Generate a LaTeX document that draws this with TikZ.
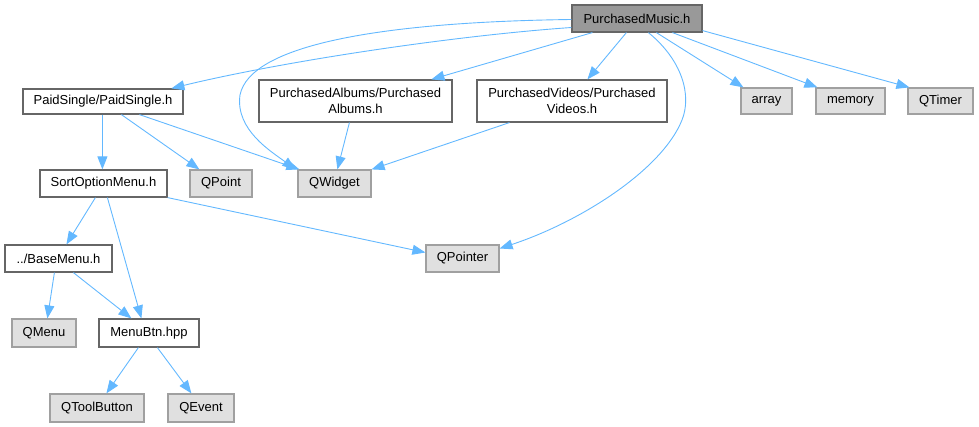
\documentclass[tikz,border=0pt]{standalone}
\usepackage{fontspec}
\setmainfont{Liberation Sans}
\usetikzlibrary{arrows.meta}
\definecolor{edgecol}{HTML}{63B8FF}
\definecolor{rootfill}{HTML}{999999}
\definecolor{darkborder}{HTML}{666666}
\definecolor{extfill}{HTML}{E0E0E0}
\definecolor{extborder}{HTML}{A0A0A0}
\begin{document}
\begin{tikzpicture}[x=1pt,y=-1pt,
  box/.style={draw=darkborder, fill=white, line width=1.2pt, rectangle, inner sep=0pt,
    font=\fontsize{13}{16}\selectfont, align=center, text=black},
  rootbox/.style={box, fill=rootfill},
  extbox/.style={box, draw=extborder, fill=extfill},
  dep/.style={draw=edgecol, line width=0.9pt, -{Triangle[length=13pt,width=10pt]}}]
\useasboundingbox (0,0) rectangle (979,427);

\node[rootbox, minimum width=130pt, minimum height=27pt] (pm) at (637,18.5) {PurchasedMusic.h};
\node[box, minimum width=160pt, minimum height=25pt] (paid) at (103,101.5) {PaidSingle/PaidSingle.h};
\node[box, minimum width=193pt, minimum height=42pt] (albums) at (355.5,101) {PurchasedAlbums/Purchased\\Albums.h};
\node[box, minimum width=190pt, minimum height=42pt] (videos) at (572,101) {PurchasedVideos/Purchased\\Videos.h};
\node[extbox, minimum width=51pt, minimum height=26pt] (array) at (766.5,101) {array};
\node[extbox, minimum width=69pt, minimum height=26pt] (memory) at (850.5,101) {memory};
\node[extbox, minimum width=65pt, minimum height=26pt] (qtimer) at (940.5,101) {QTimer};
\node[extbox, minimum width=62pt, minimum height=27pt] (qpoint) at (221,183.5) {QPoint};
\node[extbox, minimum width=73pt, minimum height=27pt] (qwidget) at (334.5,183.5) {QWidget};
\node[box, minimum width=127pt, minimum height=27pt] (sortopt) at (103.5,183.5) {SortOptionMenu.h};
\node[extbox, minimum width=73pt, minimum height=27pt] (qpointer) at (462.5,258.5) {QPointer};
\node[box, minimum width=107pt, minimum height=27pt] (basemenu) at (58.5,258.5) {../BaseMenu.h};
\node[extbox, minimum width=64pt, minimum height=28pt] (qmenu) at (44,333) {QMenu};
\node[box, minimum width=100pt, minimum height=28pt] (menubtn) at (149,333) {MenuBtn.hpp};
\node[extbox, minimum width=94pt, minimum height=28pt] (qtoolbutton) at (97,408) {QToolButton};
\node[extbox, minimum width=66pt, minimum height=28pt] (qevent) at (201,408) {QEvent};

% PurchasedMusic.h
\draw[dep] ([yshift=-9pt]pm.west) .. controls (450,36) and (280,62) .. ([xshift=149pt]paid.north west);
\draw[dep] ([yshift=-1pt]pm.west) .. controls (380,22) and (250,45) .. (240,95)
  .. controls (235,130) and (272,152) .. ([xshift=-2pt]qwidget.north west);
\draw[dep] ([xshift=21pt]pm.south west) -- ([xshift=173pt]albums.north west);
\draw[dep] ([xshift=55pt]pm.south west) -- ([xshift=111pt]videos.north west);
\draw[dep] ([xshift=77pt]pm.south west) .. controls (682,60) and (692,95) .. (682,120)
  .. controls (662,170) and (580,222) .. ([yshift=10pt]qpointer.east);
\draw[dep] ([xshift=85pt]pm.south west) -- ([xshift=3pt]array.north west);
\draw[dep] ([xshift=101pt]pm.south west) -- ([xshift=2pt]memory.north west);
\draw[dep] ([yshift=2pt]pm.south east) -- ([xshift=2pt]qtimer.north west);

% PaidSingle
\draw[dep] ([xshift=80pt]paid.south west) -- ([xshift=63pt]sortopt.north west);
\draw[dep] ([xshift=99pt]paid.south west) -- ([xshift=10pt]qpoint.north west);
\draw[dep] ([xshift=117pt]paid.south west) -- ([xshift=2pt]qwidget.north west);

% Albums / Videos
\draw[dep] ([xshift=91pt]albums.south west) -- ([xshift=40pt]qwidget.north west);
\draw[dep] ([xshift=33pt]videos.south west) -- (qwidget.north east);

% SortOptionMenu
\draw[dep] ([xshift=56pt]sortopt.south west) -- ([xshift=62pt]basemenu.north west);
\draw[dep] ([xshift=68pt]sortopt.south west) -- ([xshift=43pt]menubtn.north west);
\draw[dep] (sortopt.south east) -- ([yshift=6pt]qpointer.west);

% BaseMenu
\draw[dep] ([xshift=50pt]basemenu.south west) -- ([xshift=36pt]qmenu.north west);
\draw[dep] ([xshift=69pt]basemenu.south west) -- ([xshift=33pt]menubtn.north west);

% MenuBtn
\draw[dep] ([xshift=40pt]menubtn.south west) -- ([xshift=57pt]qtoolbutton.north west);
\draw[dep] ([xshift=59pt]menubtn.south west) -- ([xshift=24pt]qevent.north west);
\end{tikzpicture}
\end{document}
